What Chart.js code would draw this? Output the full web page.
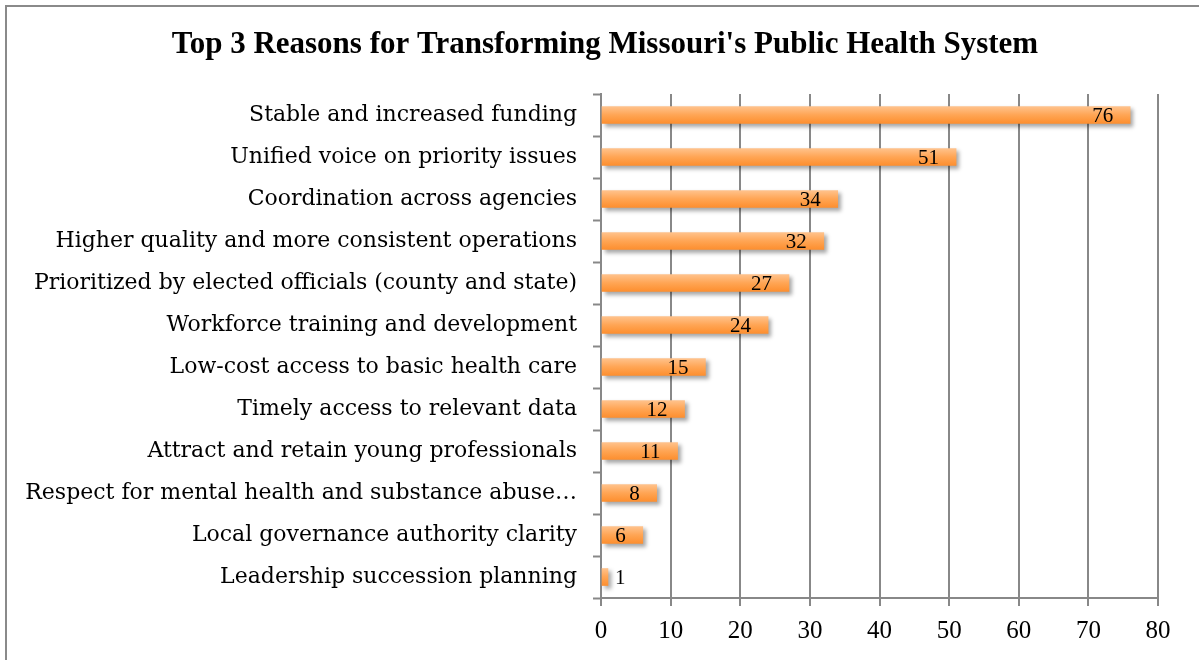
<!DOCTYPE html>
<html>
<head>
<meta charset="utf-8">
<script src="https://cdn.jsdelivr.net/npm/chart.js@4"></script>
<style>
    html, body { margin: 0; padding: 0; background: #fff; overflow: hidden; }
    #frame {
        position: absolute; left: 5px; top: 5px; width: 1300px; height: 800px;
        border: 2px solid #8a8a8a; box-sizing: border-box;
    }
    #wrap { position: absolute; left: 0; top: 0; width: 1199px; height: 660px; }
</style>
</head>
<body>
<div id="frame"></div>
<div id="wrap"><canvas id="reasons-chart"></canvas></div>
<script>
(function () {
    "use strict";

    const chartTitle = "Top 3 Reasons for Transforming Missouri's Public Health System";
    const categories = [
        "Stable and increased funding",
        "Unified voice on priority issues",
        "Coordination across agencies",
        "Higher quality and more consistent operations",
        "Prioritized by elected officials (county and state)",
        "Workforce training and development",
        "Low-cost access to basic health care",
        "Timely access to relevant data",
        "Attract and retain young professionals",
        "Respect for mental health and substance abuse\u2026",
        "Local governance authority clarity",
        "Leadership succession planning",
    ];
    const counts = [76, 51, 34, 32, 27, 24, 15, 12, 11, 8, 6, 1];
    const xTicks = [0, 10, 20, 30, 40, 50, 60, 70, 80];

    const serif = "'Liberation Serif', serif";
    const wideSerif = "'DejaVu Serif', serif";
    const gridGray = "#888888";
    const barSize = 17;

    // Title drawn by hand: it sits a bit right of the canvas centre
    const titleDraw = {
        id: "titleDraw",
        afterDraw(chart) {
            const ctx = chart.ctx;
            ctx.save();
            ctx.font = "bold 31px " + serif;
            ctx.fillStyle = "#000";
            ctx.textAlign = "center";
            ctx.textBaseline = "middle";
            ctx.fillText(chartTitle, chart.width / 2 + 5.5, 45);
            ctx.restore();
        },
    };

    // Bar shadow + value labels
    const barDecor = {
        id: "barDecor",
        beforeDatasetsDraw(chart) {
            const ctx = chart.ctx;
            ctx.save();
            ctx.shadowColor = "rgba(0,0,0,0.35)";
            ctx.shadowBlur = 4;
            ctx.shadowOffsetX = 3;
            ctx.shadowOffsetY = 3;
        },
        afterDatasetsDraw(chart) {
            const ctx = chart.ctx;
            ctx.restore();
            ctx.save();
            ctx.font = "21px " + serif;
            ctx.fillStyle = "#000";
            ctx.textBaseline = "middle";
            chart.getDatasetMeta(0).data.forEach((bar, i) => {
                const text = String(counts[i]);
                const w = ctx.measureText(text).width;
                const len = bar.x - bar.base;
                if (len > w + 20) {
                    ctx.textAlign = "right";
                    ctx.fillText(text, bar.x - 17, bar.y + 1);
                } else {
                    ctx.textAlign = "left";
                    ctx.fillText(text, bar.x + 7, bar.y + 1);
                }
            });
            ctx.restore();
        },
    };

    new Chart(document.getElementById("reasons-chart"), {
        type: "bar",
        data: {
            labels: categories,
            datasets: [
                {
                    data: counts,
                    barThickness: barSize,
                    borderWidth: 0,
                    backgroundColor: (c) => {
                        const chart = c.chart;
                        if (!chart.chartArea || !chart.scales.y) return "#ffa04a";
                        const y = chart.scales.y.getPixelForValue(c.dataIndex);
                        const g = chart.ctx.createLinearGradient(0, y - barSize / 2, 0, y + barSize / 2);
                        g.addColorStop(0, "#ffc28c");
                        g.addColorStop(0.5, "#ffa554");
                        g.addColorStop(1, "#fd8f2f");
                        return g;
                    },
                },
            ],
        },
        options: {
            indexAxis: "y",
            responsive: true,
            maintainAspectRatio: false,
            animation: false,
            layout: {
                padding: { left: 0, right: 41, top: 94, bottom: 0 },
            },
            plugins: {
                legend: { display: false },
                tooltip: { enabled: false },
                title: { display: false },
            },
            scales: {
                x: {
                    min: 0,
                    max: 80,
                    afterBuildTicks: (scale) => {
                        scale.ticks = xTicks.map((v) => ({ value: v }));
                    },
                    afterFit: (scale) => {
                        scale.height = 62;
                    },
                    ticks: {
                        color: "#000",
                        font: { family: serif, size: 25 },
                        padding: 10,
                    },
                    grid: {
                        color: gridGray,
                        lineWidth: 2,
                        tickLength: 8,
                        tickColor: gridGray,
                        tickWidth: 2,
                    },
                    border: { display: true, color: gridGray, width: 2 },
                },
                y: {
                    afterFit: (scale) => {
                        scale.width = 601;
                    },
                    ticks: {
                        color: "#000",
                        font: { family: wideSerif, size: 22 },
                        padding: 16,
                        autoSkip: false,
                    },
                    grid: {
                        offset: true,
                        drawOnChartArea: false,
                        tickLength: 8,
                        tickColor: gridGray,
                        tickWidth: 2,
                    },
                    border: { display: true, color: gridGray, width: 2 },
                },
            },
        },
        plugins: [barDecor, titleDraw],
    });
})();
</script>
</body>
</html>
